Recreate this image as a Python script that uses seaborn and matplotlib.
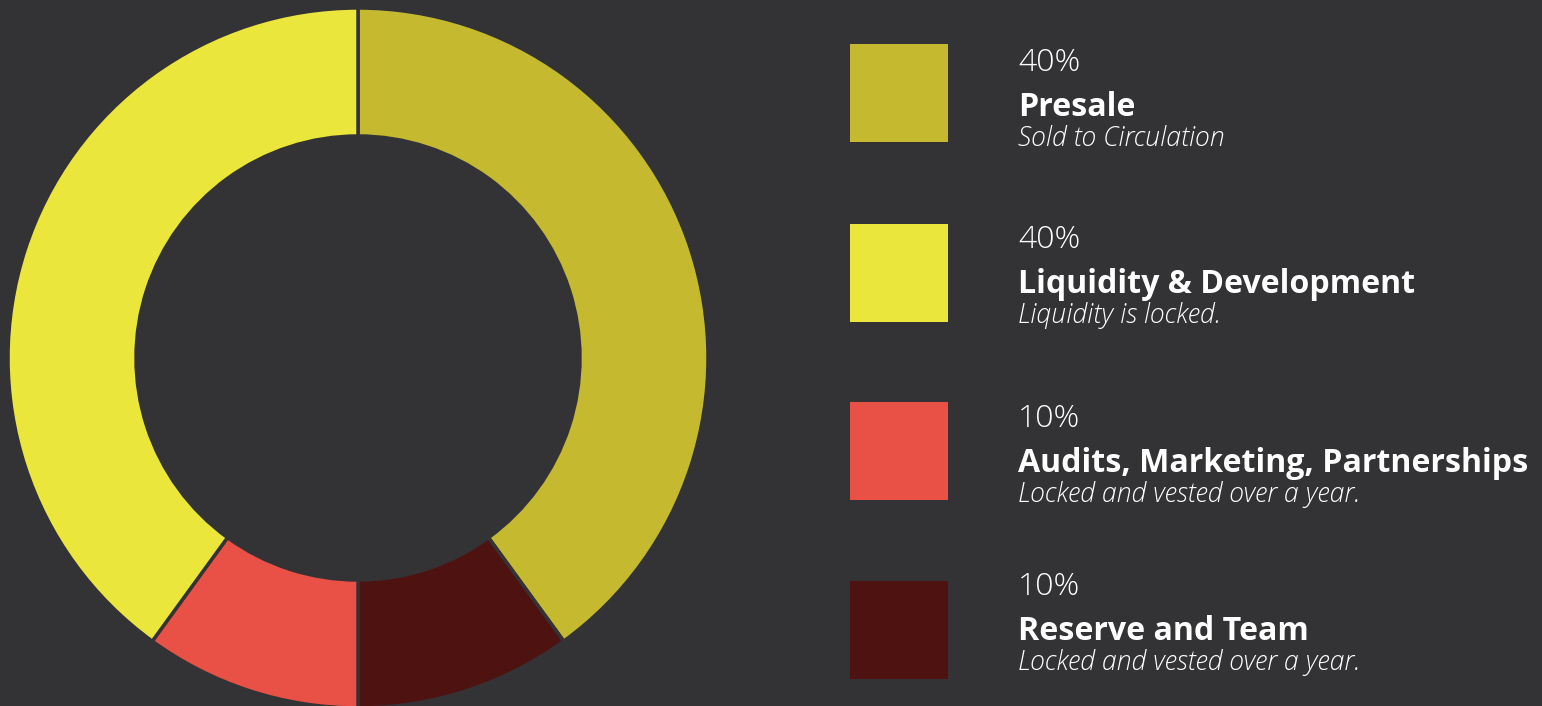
import matplotlib
matplotlib.use("Agg")
from matplotlib import pyplot as plt
from matplotlib.patches import Rectangle
import seaborn as sns

# token allocation, in legend order
pcts = [40, 40, 10, 10]
names = ["Presale", "Liquidity & Development", "Audits, Marketing, Partnerships", "Reserve and Team"]
notes = ["Sold to Circulation", "Liquidity is locked.",
         "Locked and vested over a year.", "Locked and vested over a year."]
colors = ["#C4B92F", "#EAE63B", "#E95046", "#4E1310"]
# clockwise drawing order around the ring, starting at 12 o'clock
ring_order = [0, 3, 2, 1]

bg = "#333335"
sns.set_theme(style="white", rc={"figure.facecolor": bg, "axes.facecolor": bg})
plt.rcParams["font.family"] = ["Open Sans", "DejaVu Sans"]

W, H = 1542, 706
fig = plt.figure(figsize=(W / 100, H / 100), dpi=100)

# donut
cx, cy, r = 358, 358, 350
ax = fig.add_axes([(cx - r) / W, (H - cy - r) / H, 2 * r / W, 2 * r / H])
ax.pie([pcts[i] for i in ring_order], colors=[colors[i] for i in ring_order],
       startangle=90, counterclock=False, radius=1,
       wedgeprops=dict(width=128 / r, edgecolor=bg, linewidth=2.5))
ax.set_xlim(-1, 1)
ax.set_ylim(-1, 1)
ax.set_aspect("equal")
ax.axis("off")

# legend blocks (pixel layout, from top)
sq_tops = [44, 224, 402, 581]
pct_lines = [71, 248, 427, 595]
sq = 98
for i, (p, n, s, c) in enumerate(zip(pcts, names, notes, colors)):
    top = sq_tops[i]
    base = pct_lines[i]
    fig.add_artist(Rectangle((850 / W, (H - top - sq) / H), sq / W, sq / H,
                             transform=fig.transFigure, color=c, lw=0))
    fig.text(1018 / W, (H - base) / H, f"{p}%", color="white",
             fontsize=23, fontweight="light", va="baseline")
    fig.text(1018 / W, (H - base - 45) / H, n, color="white",
             fontsize=23.1, fontweight="bold", va="baseline")
    fig.text(1018 / W, (H - base - 75) / H, s, color="white",
             fontsize=19.2, fontweight="light", fontstyle="italic", va="baseline")

fig.savefig("out.png", dpi=100, facecolor=bg)
